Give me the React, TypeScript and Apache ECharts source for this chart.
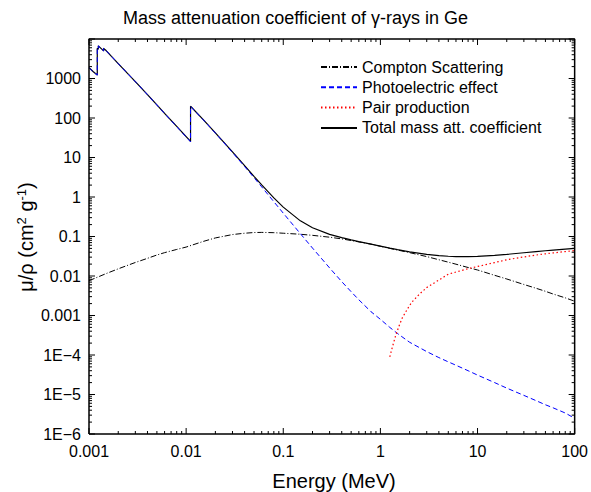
import React, { useEffect, useRef } from 'react';
import * as echarts from 'echarts';

const FONT = '"Liberation Sans", Arial, Helvetica, sans-serif';

const X_MIN = 0.001;
const X_MAX = 100;
const Y_MIN = 1e-6;
const Y_MAX = 1e4;

const xTickLabels = ['0.001', '0.01', '0.1', '1', '10', '100'];
const yTickLabels = ['1E\u22126', '1E\u22125', '1E\u22124', '0.001', '0.01', '0.1', '1', '10', '100', '1000', ''];
const xMajorTicks = [0.001, 0.01, 0.1, 1, 10, 100];
const yMajorTicks = [1e-6, 1e-5, 1e-4, 0.001, 0.01, 0.1, 1, 10, 100, 1000, 10000];
const minorMultipliers = [2, 3, 4, 5, 6, 7, 8, 9];

const seriesNames = ['Compton Scattering', 'Photoelectric effect', 'Pair production', 'Total mass att. coefficient'];

// Compton scattering (MeV, cm2/g)
const comptonEnergy = [0.001, 0.0015, 0.002, 0.003, 0.004, 0.005, 0.006, 0.008, 0.01, 0.015, 0.02, 0.03, 0.04, 0.05, 0.06, 0.08, 0.1, 0.15, 0.2, 0.3, 0.4, 0.5, 0.6, 0.8, 1, 1.25, 1.5, 2, 3, 4, 5, 6, 8, 10, 15, 20, 30, 40, 50, 60, 80, 100];
const comptonValue = [0.0076, 0.0115, 0.0152, 0.022, 0.028, 0.034, 0.039, 0.047, 0.054, 0.075, 0.092, 0.112, 0.121, 0.126, 0.127, 0.125, 0.121, 0.114, 0.107, 0.096, 0.087, 0.079, 0.073, 0.064, 0.0565, 0.05, 0.0455, 0.039, 0.031, 0.0258, 0.0224, 0.0199, 0.0164, 0.0142, 0.0104, 0.0084, 0.0061, 0.0049, 0.0041, 0.0035, 0.0028, 0.0023];

// Photoelectric effect
const photoEnergy = [0.001, 0.0011, 0.0012167, 0.0012167, 0.0012478, 0.0012478, 0.0014143, 0.0014143, 0.0015, 0.002, 0.003, 0.004, 0.005, 0.006, 0.008, 0.01, 0.011103, 0.011103, 0.015, 0.02, 0.03, 0.04, 0.05, 0.06, 0.08, 0.1, 0.15, 0.2, 0.3, 0.4, 0.5, 0.6, 0.8, 1, 1.25, 1.5, 2, 3, 4, 5, 6, 8, 10, 15, 20, 30, 40, 50, 60, 80, 100];
const photoValue = [1880, 1490, 1220, 5790, 5490, 6690, 4990, 5790, 5090, 2385, 833, 389, 213.5, 130.2, 60.4, 33.1, 24.95, 197.6, 90.4, 41.6, 13.45, 5.9, 3.08, 1.8, 0.76, 0.39, 0.118, 0.051, 0.016, 0.0072, 0.004, 0.0025, 0.00125, 0.0008, 0.0005, 0.00035, 0.00021, 0.000122, 0.000086, 0.000067, 0.000055, 0.00004, 0.000031, 0.00002, 0.0000145, 0.0000095, 0.000007, 0.0000055, 0.0000046, 0.0000034, 0.0000025];

// Pair production
const pairEnergy = [1.25, 1.33, 1.43, 1.55, 1.68, 1.9, 2.1, 2.5, 3, 4, 5, 6, 8, 10, 15, 20, 30, 40, 50, 60, 80, 100];
const pairValue = [0.00009, 0.00016, 0.0003, 0.00053, 0.00087, 0.00147, 0.00215, 0.0034, 0.0051, 0.0079, 0.0111, 0.0126, 0.0153, 0.0174, 0.0219, 0.0258, 0.0304, 0.0339, 0.0365, 0.0384, 0.0415, 0.0439];

// Total mass attenuation coefficient
const totalEnergy = [0.001, 0.0011, 0.0012167, 0.0012167, 0.0012478, 0.0012478, 0.0014143, 0.0014143, 0.0015, 0.002, 0.003, 0.004, 0.005, 0.006, 0.008, 0.01, 0.011103, 0.011103, 0.015, 0.02, 0.03, 0.04, 0.05, 0.06, 0.08, 0.1, 0.15, 0.2, 0.3, 0.4, 0.5, 0.6, 0.8, 1, 1.25, 1.5, 2, 3, 4, 5, 6, 8, 10, 15, 20, 30, 40, 50, 60, 80, 100];
const totalValue = [1893, 1502, 1230, 5800, 5500, 6700, 5000, 5800, 5100, 2391, 836.8, 391.4, 215.1, 131.4, 61.25, 33.79, 25.57, 198.3, 91.13, 42.22, 13.85, 6.207, 3.335, 2.023, 0.9501, 0.555, 0.2491, 0.1661, 0.1131, 0.09327, 0.08212, 0.07452, 0.06426, 0.05727, 0.05101, 0.04657, 0.04086, 0.03524, 0.03275, 0.03158, 0.03107, 0.03103, 0.03156, 0.0334, 0.03528, 0.03882, 0.04148, 0.0436, 0.04531, 0.0479, 0.0498];

const zip = (e: number[], v: number[]) => e.map((x, i) => [x, v[i]]);

export default function App() {
  const ref = useRef<HTMLDivElement>(null);

  useEffect(() => {
    if (!ref.current) return;
    const chart = echarts.init(ref.current, null, { renderer: 'svg' });

    const axisCommon = {
      type: 'log' as const,
      logBase: 10,
      axisLine: { show: false, onZero: false },
      axisTick: { show: false },
      splitLine: { show: false },
      minorTick: { show: false },
    };

    const labelStyle = { color: '#000', fontSize: 16, fontFamily: FONT };

    const textGraphics: any[] = [
      {
        type: 'text',
        x: 334,
        y: 481,
        style: {
          text: 'Energy (MeV)',
          fill: '#000',
          fontSize: 20,
          fontFamily: FONT,
          align: 'center',
          verticalAlign: 'middle',
        },
      },
      {
        type: 'text',
        x: 26,
        y: 237,
        rotation: Math.PI / 2,
        style: {
          text: '{a|\u03bc/\u03c1 (cm}{b|2}{a| g}{b|-1}{a|)}',
          align: 'center',
          verticalAlign: 'middle',
          rich: {
            a: { fill: '#000', fontSize: 20, fontFamily: FONT, lineHeight: 22 },
            b: { fill: '#000', fontSize: 13, fontFamily: FONT, verticalAlign: 'top', lineHeight: 22 },
          },
        },
      },
    ];

    const dataSeries: any[] = [
      {
        name: seriesNames[0],
        type: 'line',
        data: zip(comptonEnergy, comptonValue),
        symbol: 'none',
        lineStyle: { color: '#000', width: 1, type: [6, 2, 1, 2] },
        itemStyle: { color: '#000' },
      },
      {
        name: seriesNames[3],
        type: 'line',
        data: zip(totalEnergy, totalValue),
        symbol: 'none',
        lineStyle: { color: '#000', width: 1.2, type: 'solid' },
        itemStyle: { color: '#000' },
      },
      {
        name: seriesNames[1],
        type: 'line',
        data: zip(photoEnergy, photoValue),
        symbol: 'none',
        lineStyle: { color: '#0000ff', width: 1, type: [5, 3] },
        itemStyle: { color: '#0000ff' },
      },
      {
        name: seriesNames[2],
        type: 'line',
        data: zip(pairEnergy, pairValue),
        symbol: 'none',
        lineStyle: { color: '#ff0000', width: 1.2, type: [1.5, 2.5] },
        itemStyle: { color: '#ff0000' },
      },
    ];

    const option: any = {
      animation: false,
      backgroundColor: '#fff',
      title: {
        text: 'Mass attenuation coefficient of \u03b3-rays in Ge',
        left: 'center',
        top: 4,
        textStyle: { color: '#000', fontSize: 18, fontWeight: 'normal', fontFamily: FONT },
      },
      grid: { left: 89, right: 12, top: 39, bottom: 58 },
      legend: {
        orient: 'vertical',
        left: 320,
        top: 59,
        padding: 0,
        itemWidth: 36,
        itemHeight: 14,
        itemGap: 4.3,
        data: seriesNames,
        itemStyle: { opacity: 0 },
        textStyle: { color: '#000', fontSize: 16, fontFamily: FONT },
      },
      xAxis: {
        ...axisCommon,
        position: 'bottom',
        min: X_MIN,
        max: X_MAX,
        splitNumber: 5,
        interval: 1,
        axisLabel: {
          ...labelStyle,
          margin: 9,
          formatter: (v: number) => xTickLabels[Math.round(Math.log10(v)) + 3] ?? '',
        },
      },
      yAxis: {
        ...axisCommon,
        position: 'left',
        min: Y_MIN,
        max: Y_MAX,
        splitNumber: 10,
        interval: 1,
        axisLabel: {
          ...labelStyle,
          margin: 8,
          formatter: (v: number) => yTickLabels[Math.round(Math.log10(v)) + 6] ?? '',
        },
      },
      graphic: textGraphics,
      series: dataSeries,
    };

    chart.setOption(option);

    // Pixel <-> data conversions through the axes' own scales
    const px = (v: number) => chart.convertToPixel({ xAxisIndex: 0 }, v) as number;
    const py = (v: number) => chart.convertToPixel({ yAxisIndex: 0 }, v) as number;
    const dx = (p: number) => chart.convertFromPixel({ xAxisIndex: 0 }, p) as number;
    const dy = (p: number) => chart.convertFromPixel({ yAxisIndex: 0 }, p) as number;

    const left = px(X_MIN);
    const right = px(X_MAX);
    const bottom = py(Y_MIN);
    const top = py(Y_MAX);

    // Tick marks as polyline segments (gaps between them)
    const tickData: any[] = [];
    const gap = ['-', '-'];
    const xTick = (v: number, len: number) => {
      tickData.push([v, Y_MIN], [v, dy(bottom - len)], gap);
      tickData.push([v, Y_MAX], [v, dy(top + len)], gap);
    };
    const yTick = (v: number, len: number) => {
      tickData.push([X_MIN, v], [dx(left + len), v], gap);
      tickData.push([X_MAX, v], [dx(right - len), v], gap);
    };
    xMajorTicks.forEach((v) => xTick(v, 6));
    yMajorTicks.forEach((v) => yTick(v, 6));
    xMajorTicks.slice(0, -1).forEach((d) => minorMultipliers.forEach((m) => xTick(d * m, 3)));
    yMajorTicks.slice(0, -1).forEach((d) => minorMultipliers.forEach((m) => yTick(d * m, 3)));

    const frameSeries = {
      name: 'frame',
      type: 'line',
      silent: true,
      clip: false,
      z: 10,
      symbol: 'none',
      data: [
        [X_MIN, Y_MIN],
        [X_MAX, Y_MIN],
        [X_MAX, Y_MAX],
        [X_MIN, Y_MAX],
        [X_MIN, Y_MIN],
      ],
      lineStyle: { color: '#000', width: 1.5, type: 'solid' },
      itemStyle: { color: '#000' },
    };
    const tickSeries = {
      name: 'ticks',
      type: 'line',
      silent: true,
      clip: false,
      z: 10,
      symbol: 'none',
      connectNulls: false,
      data: tickData,
      lineStyle: { color: '#000', width: 1, type: 'solid' },
      itemStyle: { color: '#000' },
    };

    chart.setOption({ series: [...dataSeries, frameSeries, tickSeries] });

    return () => chart.dispose();
  }, []);

  return (
    <div style={{ position: 'absolute', left: 0, top: 0, width: 591 }}>
      <div ref={ref} style={{ width: 591, height: 492 }} />
    </div>
  );
}
